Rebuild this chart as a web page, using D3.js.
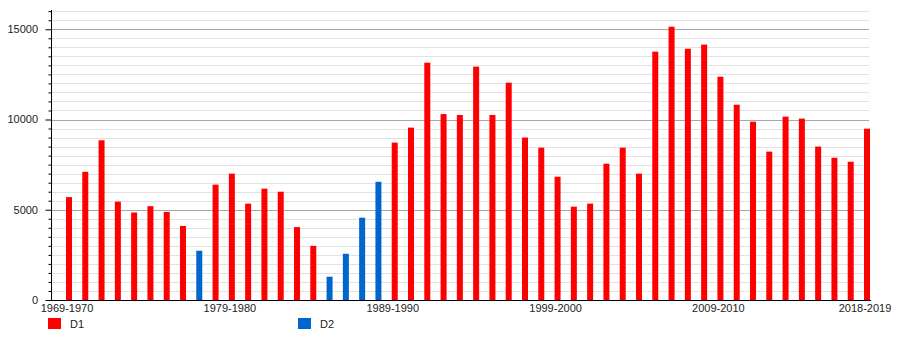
<!DOCTYPE html>
<html>
<head>
<meta charset="utf-8">
<script src="https://cdn.jsdelivr.net/npm/d3@7"></script>
<style>
  body { margin: 0; background: #fff; }
  svg { display: block; font-family: "Liberation Sans", Arial, sans-serif; }
</style>
</head>
<body>
<div id="chart"></div>
<script>
// seasons 1969-1970 .. 2018-2019
const startYears = d3.range(1969, 2019);
const categories = startYears.map(y => y + '-' + (y + 1));

// values, one per season
const values = [
  5700, 7100, 8850, 5450, 4850, 5200, 4880, 4100, 2730, 6390,
  7000, 5340, 6170, 6000, 4040, 3000, 1290, 2560, 4560, 6550,
  8720, 9550, 13150, 10300, 10250, 12930, 10250, 12040, 9000, 8440,
  6830, 5170, 5340, 7550, 8440, 7000, 13760, 15140, 13920, 14150,
  12370, 10820, 9880, 8220, 10160, 10050, 8500, 7880, 7660, 9490
];
// which series each bar belongs to
const series = [
  'D1', 'D1', 'D1', 'D1', 'D1', 'D1', 'D1', 'D1', 'D2', 'D1',
  'D1', 'D1', 'D1', 'D1', 'D1', 'D1', 'D2', 'D2', 'D2', 'D2',
  'D1', 'D1', 'D1', 'D1', 'D1', 'D1', 'D1', 'D1', 'D1', 'D1',
  'D1', 'D1', 'D1', 'D1', 'D1', 'D1', 'D1', 'D1', 'D1', 'D1',
  'D1', 'D1', 'D1', 'D1', 'D1', 'D1', 'D1', 'D1', 'D1', 'D1'
];
const seriesNames = ['D1', 'D2'];
const seriesColors = ['#ff0000', '#0066cc'];
const xTickLabels = ['1969-1970', '1979-1980', '1989-1990', '1999-2000', '2009-2010', '2018-2019'];
const yMajorTicks = [0, 5000, 10000, 15000];

const width = 900, height = 350;
const plotLeft = 51, plotRight = 869, plotTop = 10, plotBottom = 300;

const svg = d3.select('#chart').append('svg')
  .attr('width', width)
  .attr('height', height);

const x = d3.scalePoint().domain(categories).range([69, 867]);
const y = d3.scaleLinear().domain([0, 16000]).range([plotBottom, 11.2]);
const color = d3.scaleOrdinal().domain(seriesNames).range(seriesColors);

// gridlines, minor every 500, major every 5000
const gridTicks = d3.range(500, 16001, 500);
svg.append('g')
  .selectAll('line')
  .data(gridTicks)
  .join('line')
  .attr('x1', plotLeft)
  .attr('x2', plotRight)
  .attr('y1', d => Math.round(y(d)) + 0.5)
  .attr('y2', d => Math.round(y(d)) + 0.5)
  .attr('stroke', d => d % 5000 === 0 ? '#a8a8a8' : '#e2e2e2')
  .attr('stroke-width', 1);

// bars
const data = categories.map((c, i) => ({ cat: c, value: values[i], s: series[i] }));
svg.append('g')
  .selectAll('rect')
  .data(data)
  .join('rect')
  .attr('x', d => x(d.cat) - 3)
  .attr('width', 6)
  .attr('y', d => y(d.value))
  .attr('height', d => plotBottom - y(d.value))
  .attr('fill', d => color(d.s));

// y axis
const yAxis = svg.append('g')
  .attr('transform', `translate(${plotLeft + 0.5},0)`)
  .call(d3.axisLeft(y).tickValues(gridTicks.concat([0])).tickSize(3).tickFormat(''));
yAxis.select('.domain').attr('d', `M0,${plotTop}V${plotBottom}`).attr('stroke', '#000');
yAxis.selectAll('.tick line')
  .attr('x2', d => d % 5000 === 0 ? -6 : -3)
  .attr('stroke', '#000');

svg.append('g')
  .selectAll('text')
  .data(yMajorTicks)
  .join('text')
  .attr('x', 38)
  .attr('y', d => y(d))
  .attr('dy', '0.35em')
  .attr('text-anchor', 'end')
  .attr('font-size', 11)
  .attr('fill', '#222')
  .text(d => d);

// x axis line
svg.append('line')
  .attr('x1', plotLeft)
  .attr('x2', plotRight + 2)
  .attr('y1', plotBottom + 0.5)
  .attr('y2', plotBottom + 0.5)
  .attr('stroke', '#000');

svg.append('g')
  .selectAll('text')
  .data(xTickLabels)
  .join('text')
  .attr('x', d => x(d) - 2)
  .attr('y', 312)
  .attr('text-anchor', 'middle')
  .attr('font-size', 11)
  .attr('fill', '#222')
  .text(d => d);

// legend
const legendX = [48, 298];
const legend = svg.append('g')
  .selectAll('g')
  .data(seriesNames)
  .join('g')
  .attr('transform', (d, i) => `translate(${legendX[i]},318)`);
legend.append('rect')
  .attr('width', 13)
  .attr('height', 11)
  .attr('fill', d => color(d));
legend.append('text')
  .attr('x', 22)
  .attr('y', 10)
  .attr('font-size', 11)
  .attr('fill', '#222')
  .text(d => d);
</script>
</body>
</html>
